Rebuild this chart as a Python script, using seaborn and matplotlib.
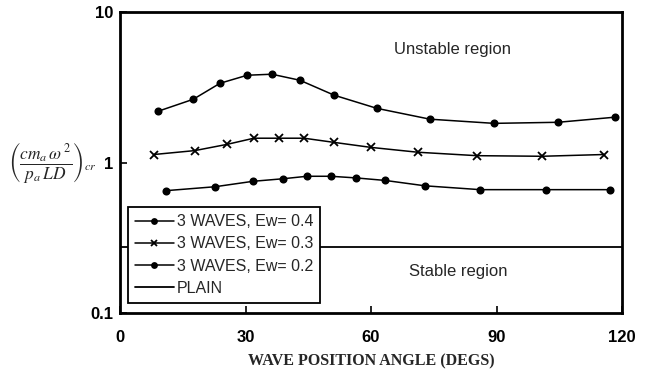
import matplotlib
matplotlib.use("Agg")
import matplotlib.pyplot as plt
import seaborn as sns
import pandas as pd
import numpy as np

sns.set_theme(style="white")
plt.rcParams['font.family'] = ['Liberation Sans', 'DejaVu Sans']
plt.rcParams['mathtext.fontset'] = 'stix'

# Data
x_04 = [9.1, 17.5, 23.9, 30.4, 36.3, 43.0, 51.2, 61.4, 74.1, 89.4, 104.7, 118.3]
y_04 = [2.19, 2.63, 3.36, 3.80, 3.86, 3.52, 2.80, 2.29, 1.94, 1.82, 1.85, 2.00]

x_03 = [8.1, 17.9, 25.6, 32.0, 38.0, 44.0, 51.2, 60.0, 71.2, 85.3, 100.9, 115.7]
y_03 = [1.13, 1.20, 1.32, 1.45, 1.45, 1.45, 1.36, 1.26, 1.17, 1.11, 1.10, 1.13]

x_02 = [11.0, 22.7, 31.8, 39.0, 44.7, 50.4, 56.4, 63.4, 72.9, 86.1, 101.8, 117.1]
y_02 = [0.65, 0.69, 0.75, 0.78, 0.81, 0.81, 0.79, 0.76, 0.70, 0.66, 0.66, 0.66]

x_plain = [0, 120]
y_plain = [0.275, 0.275]

labels = ["3 WAVES, Ew= 0.4", "3 WAVES, Ew= 0.3", "3 WAVES, Ew= 0.2", "PLAIN"]
x_ticks = [0, 30, 60, 90, 120]
y_ticks = [0.1, 1, 10]
y_tick_labels = ["0.1", "1", "10"]

fig = plt.figure(figsize=(6.53, 3.71), dpi=100)
ax = fig.add_axes([120/653, 1-313/371, (622-120)/653, (313-12)/371])

series = [
    (x_04, y_04, labels[0], 'o', 4.5),
    (x_03, y_03, labels[1], 'x', 5.5),
    (x_02, y_02, labels[2], 'o', 4.5),
]
for xs, ys, lab, mk, ms in series:
    df = pd.DataFrame({"x": xs, "y": ys})
    sns.lineplot(data=df, x="x", y="y", ax=ax, color="black", marker=mk,
                 markersize=ms, markeredgecolor="black", markeredgewidth=1.3,
                 linewidth=1.1, label=lab, sort=False)
dfp = pd.DataFrame({"x": x_plain, "y": y_plain})
sns.lineplot(data=dfp, x="x", y="y", ax=ax, color="black", linewidth=1.3,
             label=labels[3], sort=False)

ax.set_yscale("log")
ax.set_xlim(0, 120)
ax.set_ylim(0.1, 10)
ax.set_xticks(x_ticks)
ax.set_xticklabels([str(t) for t in x_ticks], fontsize=12, fontweight='bold')
ax.set_yticks(y_ticks)
ax.set_yticklabels(y_tick_labels, fontsize=12, fontweight='bold')
ax.yaxis.set_minor_locator(matplotlib.ticker.NullLocator())
ax.tick_params(axis='x', direction='in', length=5, width=1.2, color='black',
               pad=12, labelcolor='black', bottom=True)
ax.tick_params(axis='y', direction='in', length=5, width=1.2, color='black',
               pad=5, labelcolor='black', left=True)
for s in ax.spines.values():
    s.set_color('black')
    s.set_linewidth(2)

ax.set_xlabel("WAVE POSITION ANGLE (DEGS)", fontsize=11.5, fontweight='bold',
              family=['Liberation Serif', 'DejaVu Serif'], labelpad=6)
ax.set_ylabel("")

fig.text(97/653, 1-162/371, r'$\left(\dfrac{cm_a\,\omega^{\,2}}{p_a\,LD}\right)_{cr}$',
         fontsize=12.5, ha='right', va='center')

ax.text(79.6, 5.67, "Unstable region", fontsize=12, ha='center', va='center')
ax.text(80.8, 0.188, "Stable region", fontsize=12, ha='center', va='center')

leg = ax.legend(loc='lower left', bbox_to_anchor=(8/502, 10/301), fontsize=11.5,
                frameon=True, fancybox=False, edgecolor='black', framealpha=1,
                handlelength=2.4, handletextpad=0.2, borderpad=0.45,
                labelspacing=0.45, borderaxespad=0, markerscale=0.8)
leg.get_frame().set_linewidth(1.3)

fig.savefig("out.png", dpi=100)
